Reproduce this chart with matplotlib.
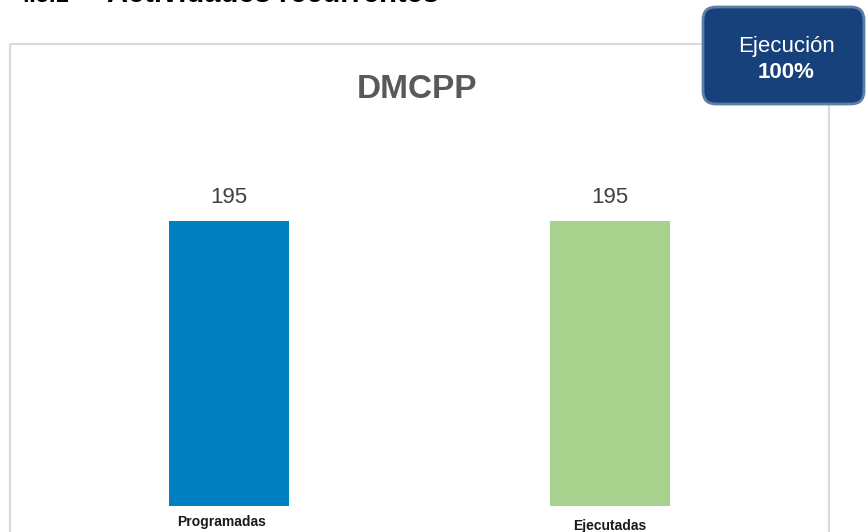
import matplotlib
matplotlib.use("Agg")
import matplotlib.pyplot as plt
from matplotlib.patches import FancyBboxPatch, Rectangle

plt.rcParams['font.family'] = ['Liberation Sans', 'DejaVu Sans']

# Data
categories = ["Programadas", "Ejecutadas"]
values = [195, 195]
bar_colors = ["#0080C0", "#A9D18E"]
chart_title = "DMCPP"
badge_label = "Ejecución"
badge_value = "100%"
header_num = "4.5.1"
header_text = "Actividades recurrentes"

W, H = 866, 532
fig = plt.figure(figsize=(W / 100, H / 100), dpi=100)

# main axes in pixel-derived positions
left, right, top, bottom = 10, 829, 44, 506
ax = fig.add_axes([left / W, 1 - bottom / H, (right - left) / W, (bottom - top) / H])
x = list(range(len(categories)))
ax.bar(x, values, width=0.315, color=bar_colors, zorder=2)
ax.set_xlim(-0.575, 1.575)
ax.set_ylim(0, 316)
ax.axis('off')
for xi, v in zip(x, values):
    ax.annotate(f"{v}", (xi, v), xytext=(0, 13), textcoords='offset points',
                ha='center', va='baseline', fontsize=16, color='#404040')

# overlay axes in pixel coordinates
ov = fig.add_axes([0, 0, 1, 1], zorder=5)
ov.set_xlim(0, W)
ov.set_ylim(H, 0)
ov.axis('off')
ov.patch.set_alpha(0)

# chart frame
ov.add_patch(Rectangle((left, top), right - left, 600, fill=False,
                       edgecolor='#D9D9D9', lw=1.5))

# title
ov.text(417, 98, chart_title, ha='center', va='baseline', fontsize=24,
        fontweight='bold', color='#595959')

# category labels
ov.text(222, 526, categories[0], ha='center', va='baseline', fontsize=10,
        fontweight='bold', color='#1a1a1a')
ov.text(610, 530, categories[1], ha='center', va='baseline', fontsize=10,
        fontweight='bold', color='#1a1a1a')

# header (cut off at top, as in the reference)
ov.text(17, 1.5, header_num, ha='left', va='baseline', fontsize=17,
        fontweight='bold', color='black')
ov.text(107, 1.5, header_text, ha='left', va='baseline', fontsize=21,
        fontweight='bold', color='black')

# badge
ov.add_patch(FancyBboxPatch((703, 7), 161, 97,
                            boxstyle="round,pad=0,rounding_size=13",
                            facecolor='#17417B', edgecolor='#5C7FA3', lw=2))
ov.text(786, 52, badge_label, ha='center', va='baseline', fontsize=16, color='white')
ov.text(786, 78, badge_value, ha='center', va='baseline', fontsize=16,
        fontweight='bold', color='white')

fig.savefig("out.png", dpi=100)
